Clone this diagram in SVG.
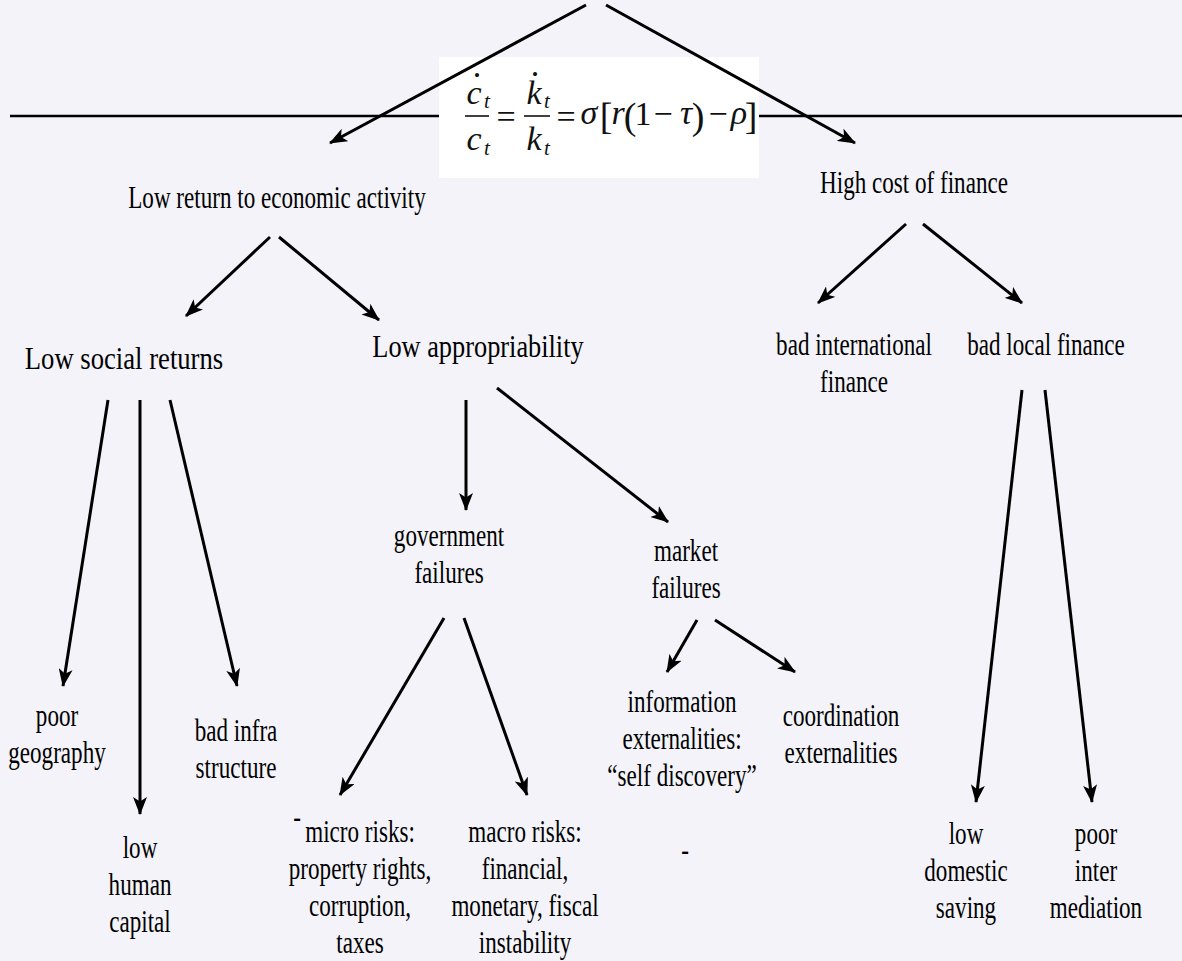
<svg xmlns="http://www.w3.org/2000/svg" width="1182" height="961" viewBox="0 0 1182 961">
<defs>
<marker id="ah" viewBox="0 0 18 14" refX="17" refY="7" markerWidth="18" markerHeight="14" markerUnits="userSpaceOnUse" orient="auto">
<path d="M0,0 L18,7 L0,14 L4.5,7 z" fill="#000"/>
</marker>
<style>
.lbl{font-family:"Liberation Serif","Times New Roman",serif;font-size:31px;fill:#000;text-anchor:middle}
.conn{stroke:#000;stroke-width:3;fill:none;marker-end:url(#ah)}
.rule{stroke:#000;stroke-width:2.5}
.eq{font-family:"Liberation Serif","Times New Roman",serif;fill:#111;text-anchor:middle;font-size:34px}
.it{font-style:italic}
.sub{font-size:21px}
.br{font-size:38px}
</style>
</defs>
<rect x="0" y="0" width="1182" height="961" fill="#f3f3f9"/>
<g id="rules">
<line class="rule" x1="10" y1="116" x2="439" y2="116"/>
<line class="rule" x1="759" y1="116" x2="1182" y2="116"/>
</g>
<g id="equation">
<rect x="439" y="57" width="320" height="121" fill="#ffffff"/>
<line x1="465" y1="116" x2="489" y2="116" stroke="#111" stroke-width="1.6"/>
<line x1="524" y1="116" x2="550" y2="116" stroke="#111" stroke-width="1.6"/>
<text class="eq"><tspan class="it" x="474" y="104">c</tspan><tspan x="477" y="77">.</tspan><tspan class="it sub" x="487" y="108">t</tspan><tspan class="it" x="474" y="150">c</tspan><tspan class="it sub" x="487" y="155">t</tspan><tspan x="506" y="128">=</tspan><tspan class="it" x="534" y="104">k</tspan><tspan x="535" y="76">.</tspan><tspan class="it sub" x="547" y="108">t</tspan><tspan class="it" x="534" y="150">k</tspan><tspan class="it sub" x="547" y="155">t</tspan><tspan x="566" y="128">=</tspan><tspan class="it" x="589" y="124">σ</tspan><tspan class="br" x="606" y="129">[</tspan><tspan class="it" x="618" y="124">r</tspan><tspan class="br" x="630" y="129">(</tspan><tspan x="643" y="125">1</tspan><tspan x="663" y="125">−</tspan><tspan class="it" x="686" y="124">τ</tspan><tspan class="br" x="698" y="129">)</tspan><tspan x="718" y="125">−</tspan><tspan class="it" x="739" y="124">ρ</tspan><tspan class="br" x="751" y="129">]</tspan></text>
</g>
<g id="connectors">
<path class="conn" d="M586,5 L330,143"/>
<path class="conn" d="M606,5 L855,143"/>
<path class="conn" d="M270,237 L186,316"/>
<path class="conn" d="M279,237 L379,320"/>
<path class="conn" d="M906,224 L818,303"/>
<path class="conn" d="M923,224 L1022,303"/>
<path class="conn" d="M108,400 L63,686"/>
<path class="conn" d="M140,400 L140,814"/>
<path class="conn" d="M170,400 L237,686"/>
<path class="conn" d="M466,400 L466,510"/>
<path class="conn" d="M497,388 L668,522"/>
<path class="conn" d="M444,618 L340,795"/>
<path class="conn" d="M464,618 L527,795"/>
<path class="conn" d="M697,620 L667,672"/>
<path class="conn" d="M715,620 L795,672"/>
<path class="conn" d="M1022,390 L976,802"/>
<path class="conn" d="M1045,390 L1092,802"/>
</g>
<g id="n-low-return"><text class="lbl" transform="translate(277,208) scale(0.745,1)">Low return to economic activity</text></g>
<g id="n-high-cost"><text class="lbl" transform="translate(914,193) scale(0.745,1)">High cost of finance</text></g>
<g id="n-low-social"><text class="lbl" transform="translate(124,369) scale(0.86,1)">Low social returns</text></g>
<g id="n-low-approp"><text class="lbl" transform="translate(478,357) scale(0.85,1)">Low appropriability</text></g>
<g id="n-bad-intl"><text class="lbl" transform="translate(854,355) scale(0.745,1)"><tspan x="0">bad international</tspan><tspan x="0" dy="37">finance</tspan></text></g>
<g id="n-bad-local"><text class="lbl" transform="translate(1046,355) scale(0.745,1)">bad local finance</text></g>
<g id="n-gov"><text class="lbl" transform="translate(449,546) scale(0.745,1)"><tspan x="0">government</tspan><tspan x="0" dy="37">failures</tspan></text></g>
<g id="n-market"><text class="lbl" transform="translate(686,561) scale(0.745,1)"><tspan x="0">market</tspan><tspan x="0" dy="37">failures</tspan></text></g>
<g id="n-poor-geo"><text class="lbl" transform="translate(57,726) scale(0.745,1)"><tspan x="0">poor</tspan><tspan x="0" dy="37">geography</tspan></text></g>
<g id="n-bad-infra"><text class="lbl" transform="translate(236,741) scale(0.745,1)"><tspan x="0">bad infra</tspan><tspan x="0" dy="37">structure</tspan></text></g>
<g id="n-low-human"><text class="lbl" transform="translate(140,858) scale(0.745,1)"><tspan x="0">low</tspan><tspan x="0" dy="37">human</tspan><tspan x="0" dy="37">capital</tspan></text></g>
<g id="n-micro"><text class="lbl" transform="translate(360,842) scale(0.745,1)"><tspan x="0">micro risks:</tspan><tspan x="0" dy="37">property rights,</tspan><tspan x="0" dy="37">corruption,</tspan><tspan x="0" dy="37">taxes</tspan></text>
<text class="lbl" transform="translate(297,827) scale(0.745,1)" font-size="24">-</text></g>
<g id="n-macro"><text class="lbl" transform="translate(525,842) scale(0.745,1)"><tspan x="0">macro risks:</tspan><tspan x="0" dy="37">financial,</tspan><tspan x="0" dy="37">monetary, fiscal</tspan><tspan x="0" dy="37">instability</tspan></text></g>
<g id="n-dash"><text class="lbl" transform="translate(685,860) scale(0.745,1)" font-size="24">-</text></g>
<g id="n-info"><text class="lbl" transform="translate(682,712) scale(0.745,1)"><tspan x="0">information</tspan><tspan x="0" dy="37">externalities:</tspan><tspan x="0" dy="37">“self discovery”</tspan></text></g>
<g id="n-coord"><text class="lbl" transform="translate(841,726) scale(0.745,1)"><tspan x="0">coordination</tspan><tspan x="0" dy="37">externalities</tspan></text></g>
<g id="n-low-dom"><text class="lbl" transform="translate(966,844) scale(0.745,1)"><tspan x="0">low</tspan><tspan x="0" dy="37">domestic</tspan><tspan x="0" dy="37">saving</tspan></text></g>
<g id="n-poor-inter"><text class="lbl" transform="translate(1096,844) scale(0.745,1)"><tspan x="0">poor</tspan><tspan x="0" dy="37">inter</tspan><tspan x="0" dy="37">mediation</tspan></text></g>
</svg>
